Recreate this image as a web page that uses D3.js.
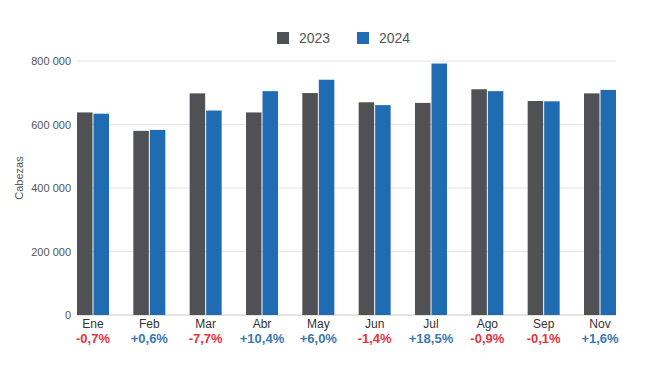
<!DOCTYPE html>
<html>
<head>
<meta charset="utf-8">
<script src="https://cdn.jsdelivr.net/npm/d3@7"></script>
<style>
  body { margin: 0; background: #fff; }
  svg { font-family: Arial, "Liberation Sans", sans-serif; }
</style>
</head>
<body>
<svg id="drawing_region"></svg>
<script>
const months = ['Ene', 'Feb', 'Mar', 'Abr', 'May', 'Jun', 'Jul', 'Ago', 'Sep', 'Nov'];
const series = ['2023', '2024'];
const values2023 = [638000, 580000, 698000, 638000, 699000, 670000, 668000, 711000, 674000, 698000];
const values2024 = [634000, 583000, 644000, 705000, 741000, 661000, 792000, 705000, 673000, 709000];
const changes = ['-0,7%', '+0,6%', '-7,7%', '+10,4%', '+6,0%', '-1,4%', '+18,5%', '-0,9%', '-0,1%', '+1,6%'];
const yticks = [0, 200000, 400000, 600000, 800000];

const colors = { '2023': '#505155', '2024': '#1f6cb3' };

const width = 650, height = 366;
const margin = { top: 61, right: 34, bottom: 51, left: 77 };
const inner_width = width - margin.left - margin.right;
const inner_height = height - margin.top - margin.bottom;

const svg = d3.select('#drawing_region')
    .attr('width', width)
    .attr('height', height);

const chart = svg.append('g')
    .attr('transform', `translate(${margin.left}, ${margin.top})`);

const data = months.map((m, i) => ({ month: m, v2023: values2023[i], v2024: values2024[i], change: changes[i] }));

const xscale = d3.scaleBand()
    .domain(months)
    .range([0, inner_width])
    .paddingInner(0.432)
    .paddingOuter(0);

const xsub = d3.scaleBand()
    .domain(series)
    .range([0, xscale.bandwidth()])
    .paddingInner(0.06);

const yscale = d3.scaleLinear()
    .domain([0, 800000])
    .range([inner_height, 0]);

const fmt = d => d3.format(',')(d).replace(/,/g, ' ');

// gridlines
chart.append('g')
    .selectAll('line')
    .data(yticks)
    .join('line')
    .attr('x1', 0)
    .attr('x2', inner_width)
    .attr('y1', d => yscale(d))
    .attr('y2', d => yscale(d))
    .attr('stroke', d => d === 0 ? '#c8c8c8' : '#e6e6e6')
    .attr('stroke-width', 1);

// y axis labels
const yaxis = d3.axisLeft(yscale)
    .tickValues(yticks)
    .tickFormat(fmt)
    .tickSize(0)
    .tickPadding(6);

const yaxis_group = chart.append('g').call(yaxis);
yaxis_group.select('.domain').remove();
yaxis_group.selectAll('text')
    .style('font-size', '11px')
    .attr('fill', '#555');

// bars
const groups = chart.selectAll('.grp')
    .data(data)
    .join('g')
    .attr('class', 'grp')
    .attr('transform', d => `translate(${xscale(d.month)}, 0)`);

groups.selectAll('rect')
    .data(d => series.map(s => ({ key: s, value: d['v' + s] })))
    .join('rect')
    .attr('x', d => xsub(d.key))
    .attr('y', d => yscale(d.value))
    .attr('width', xsub.bandwidth())
    .attr('height', d => inner_height - yscale(d.value))
    .attr('fill', d => colors[d.key]);

// x labels: month + change
const xaxis = d3.axisBottom(xscale).tickSize(0).tickPadding(4);
const xaxis_group = chart.append('g')
    .attr('transform', `translate(0, ${inner_height})`)
    .call(xaxis);
xaxis_group.select('.domain').remove();
xaxis_group.selectAll('text')
    .style('font-size', '12px')
    .attr('fill', '#333');

chart.append('g')
    .selectAll('text')
    .data(data)
    .join('text')
    .attr('x', d => xscale(d.month) + xscale.bandwidth() / 2)
    .attr('y', inner_height + 28)
    .attr('text-anchor', 'middle')
    .style('font-size', '13px')
    .style('font-weight', 'bold')
    .attr('fill', d => d.change.startsWith('-') ? '#e8323c' : '#3b78b5')
    .text(d => d.change);

// y label
svg.append('text')
    .attr('transform', 'rotate(-90)')
    .attr('x', -(margin.top + inner_height / 2) + 10)
    .attr('y', 23)
    .attr('text-anchor', 'middle')
    .style('font-size', '11px')
    .attr('fill', '#555')
    .text('Cabezas');

// legend
const legend = svg.append('g');
const legend_x = [277, 357];
series.forEach((s, i) => {
    legend.append('rect')
        .attr('x', legend_x[i])
        .attr('y', 32)
        .attr('width', 12)
        .attr('height', 12)
        .attr('fill', colors[s]);
    legend.append('text')
        .attr('x', legend_x[i] + 22)
        .attr('y', 43)
        .style('font-size', '14px')
        .attr('fill', '#555')
        .text(s);
});
</script>
</body>
</html>
